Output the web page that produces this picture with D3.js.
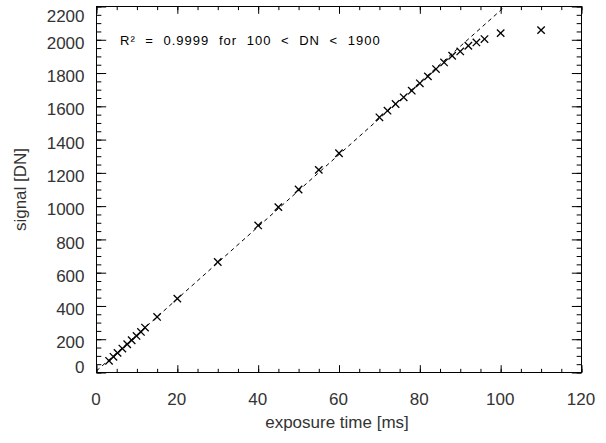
<!DOCTYPE html>
<head>
  <meta charset="utf-8">
  <title>signal vs exposure</title>
  <script src="https://d3js.org/d3.v7.min.js"></script>
  <style>
    body { margin: 0; background: #fff; }
    svg { display: block; background: #fff; }
    .frame { fill: none; stroke: #000; stroke-width: 1; }
    .axis path { display: none; }
    .axis line { stroke: #000; stroke-width: 1; }
    .tick-label, .title {
      font-family: "Liberation Sans", Arial, Helvetica, sans-serif;
      font-size: 17px;
      fill: #333;
    }
    .note {
      font-family: "Liberation Sans", Arial, Helvetica, sans-serif;
      font-size: 13px;
      letter-spacing: 1px;
      word-spacing: 5px;
      fill: #000;
    }
    .fit { fill: none; stroke: #000; stroke-width: 1; stroke-dasharray: 4,3.5; }
    .mark { stroke: #000; stroke-width: 1.3; }
  </style>
</head>

<body>
  <script>
    var W = 606, H = 443;
    var margin = {top: 6.5, right: 24.5, bottom: 70.5, left: 96.5};

    var exposure = [3.1, 4.2, 5.2, 6.4, 7.6, 8.7, 9.9, 11, 12, 15, 20, 30, 40, 45, 50, 55, 60,
                    70, 72, 74, 76, 78, 80, 82, 84, 86, 88, 90, 92, 94, 96, 100, 110];
    var signal = [70, 94, 118, 144, 170, 194, 220, 244, 270, 334, 444, 664, 884, 994, 1100, 1218, 1318,
                  1534, 1574, 1614, 1654, 1694, 1738, 1780, 1824, 1864, 1904, 1930, 1964, 1984, 2004, 2040, 2058];

    var xTicks = [0, 20, 40, 60, 80, 100, 120];
    var yTicks = [0, 200, 400, 600, 800, 1000, 1200, 1400, 1600, 1800, 2000, 2200];
    var fitRange = [100, 1900];
    var note = "R\u00b2 = 0.9999 for 100 < DN < 1900";

    var points = exposure.map((t, i) => ({t: t, s: signal[i]}));

    var x = d3.scaleLinear().domain([0, 120]).range([margin.left, W - margin.right]);
    var y = d3.scaleLinear().domain([0, 2200]).range([H - margin.bottom, margin.top]);

    var svg = d3.select("body").append("svg")
      .attr("width", W)
      .attr("height", H);

    var plotW = x.range()[1] - x.range()[0],
        plotH = y.range()[0] - y.range()[1];
    var xTickLen = plotH * 0.02, yTickLen = plotW * 0.02;

    // clip for the fit line
    svg.append("defs").append("clipPath").attr("id", "plotClip")
      .append("rect")
        .attr("x", x.range()[0]).attr("y", y.range()[1])
        .attr("width", plotW).attr("height", plotH);

    // ticks on all four sides, pointing inward (IDL style)
    function ticks(axisFn, scale, vals, len, transform) {
      svg.append("g")
        .attr("class", "axis")
        .attr("transform", transform)
        .call(axisFn(scale).tickValues(vals).tickSize(-len).tickSizeOuter(0).tickFormat(""));
    }
    var xMinor = d3.range(0, 121, 5), yMinor = d3.range(0, 2201, 50);
    ticks(d3.axisBottom, x, xMinor, xTickLen / 2, "translate(0," + y.range()[0] + ")");
    ticks(d3.axisBottom, x, xTicks, xTickLen, "translate(0," + y.range()[0] + ")");
    ticks(d3.axisTop, x, xMinor, xTickLen / 2, "translate(0," + y.range()[1] + ")");
    ticks(d3.axisTop, x, xTicks, xTickLen, "translate(0," + y.range()[1] + ")");
    ticks(d3.axisLeft, y, yMinor, yTickLen / 2, "translate(" + x.range()[0] + ",0)");
    ticks(d3.axisLeft, y, yTicks, yTickLen, "translate(" + x.range()[0] + ",0)");
    ticks(d3.axisRight, y, yMinor, yTickLen / 2, "translate(" + x.range()[1] + ",0)");
    ticks(d3.axisRight, y, yTicks, yTickLen, "translate(" + x.range()[1] + ",0)");

    svg.append("rect")
      .attr("class", "frame")
      .attr("x", x.range()[0]).attr("y", y.range()[1])
      .attr("width", plotW).attr("height", plotH);

    // tick labels
    svg.append("g").selectAll("text")
      .data(xTicks)
      .enter().append("text")
        .attr("class", "tick-label")
        .attr("x", d => x(d) - 0.5)
        .attr("y", y.range()[0] + 32.5)
        .attr("text-anchor", "middle")
        .text(d => d);

    // y labels sit a little below their tick, kept inside the axis span
    svg.append("g").selectAll("text")
      .data(yTicks)
      .enter().append("text")
        .attr("class", "tick-label")
        .attr("x", x.range()[0] - 12)
        .attr("y", d => Math.max(y.range()[1] + 9.5, Math.min(y.range()[0] - 5.8, y(d) + 3)))
        .attr("dy", "0.36em")
        .attr("text-anchor", "end")
        .text(d => d);

    // axis titles
    svg.append("text")
      .attr("class", "title")
      .attr("x", (x.range()[0] + x.range()[1]) / 2 - 2)
      .attr("y", 428)
      .attr("text-anchor", "middle")
      .text("exposure time [ms]");

    svg.append("text")
      .attr("class", "title")
      .attr("transform", "translate(26," + (y.range()[0] + y.range()[1]) / 2 + ") rotate(-90)")
      .attr("text-anchor", "middle")
      .text("signal [DN]");

    // linear fit over the points inside the DN window
    var inWin = points.filter(d => d.s > fitRange[0] && d.s < fitRange[1]);
    var mt = d3.mean(inWin, d => d.t), ms = d3.mean(inWin, d => d.s);
    var slope = d3.sum(inWin, d => (d.t - mt) * (d.s - ms)) / d3.sum(inWin, d => (d.t - mt) * (d.t - mt));
    var icpt = ms - slope * mt;

    var line = d3.line().x(d => x(d)).y(d => y(slope * d + icpt));
    svg.append("path")
      .attr("class", "fit")
      .attr("clip-path", "url(#plotClip)")
      .attr("d", line(x.domain()));

    // data crosses
    var r = 3.7;
    var marks = svg.append("g").selectAll("g")
      .data(points)
      .enter().append("g")
        .attr("transform", d => "translate(" + x(d.t) + "," + y(d.s) + ")");
    marks.append("line").attr("class", "mark").attr("x1", -r).attr("y1", -r).attr("x2", r).attr("y2", r);
    marks.append("line").attr("class", "mark").attr("x1", -r).attr("y1", r).attr("x2", r).attr("y2", -r);

    svg.append("text")
      .attr("class", "note")
      .attr("x", 120)
      .attr("y", 44.5)
      .text(note);
  </script>
</body>
